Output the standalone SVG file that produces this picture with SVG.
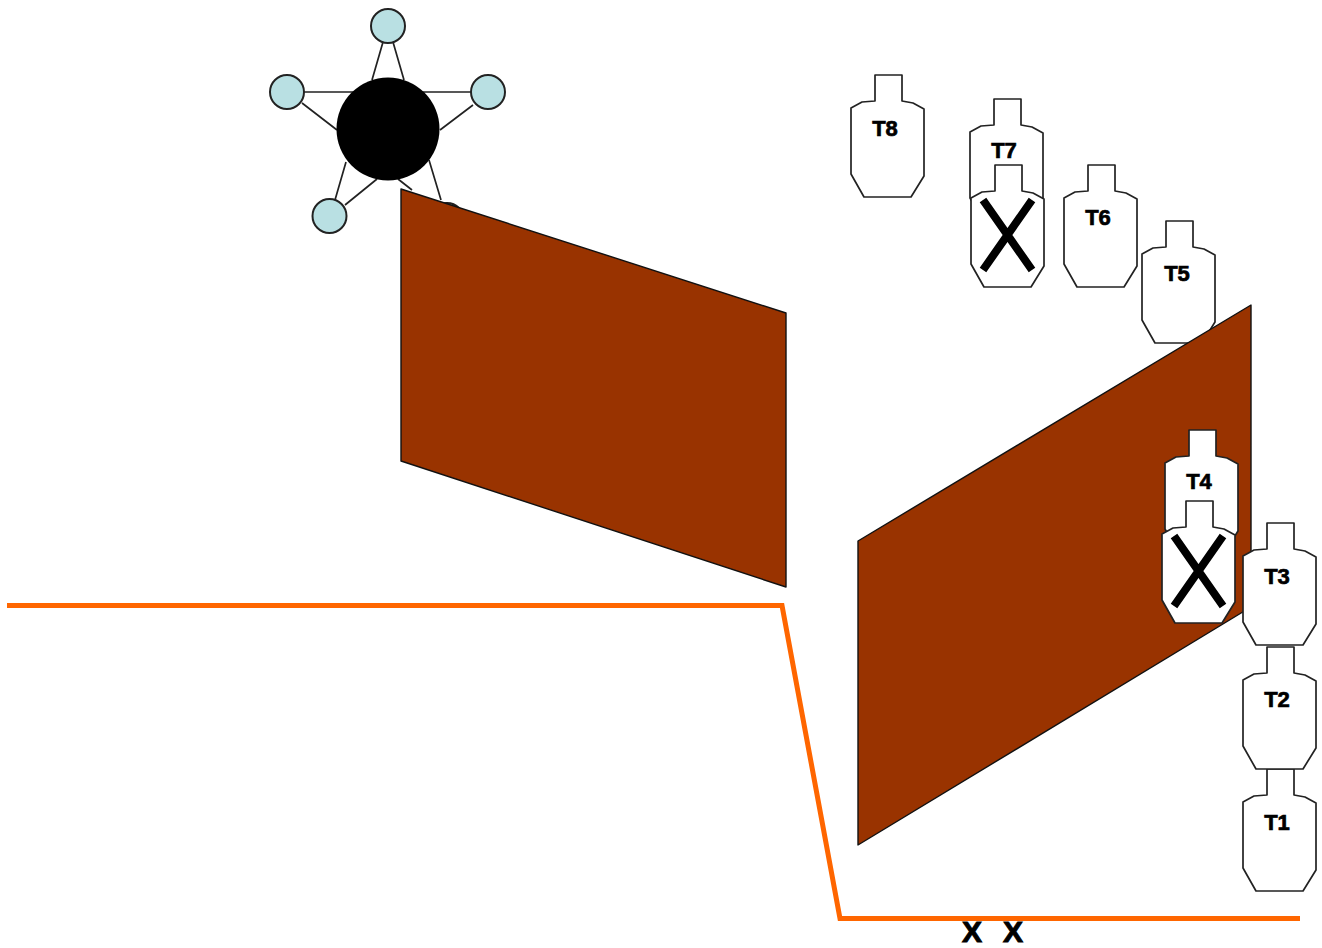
<svg xmlns="http://www.w3.org/2000/svg" xmlns:xlink="http://www.w3.org/1999/xlink" width="1322" height="948" viewBox="0 0 1322 948">
<style>
.bg{fill:#fff}
.t{fill:#fff;stroke:#222;stroke-width:1.7;stroke-linejoin:round}
.x{stroke:#000;stroke-width:8;fill:none}
.lbl{font-family:"Liberation Sans",Arial,sans-serif;font-weight:bold;font-size:22px;fill:#000;text-anchor:middle;stroke:#000;stroke-width:.7}
.wall{fill:#993300;stroke:#111;stroke-width:1.4;stroke-linejoin:round}
.sat{fill:#b9e0e3;stroke:#222;stroke-width:2}
.link{stroke:#222;stroke-width:1.7;fill:none}
.orange{fill:none;stroke:#ff6600;stroke-width:5;stroke-linejoin:miter}
.big{font-family:"Liberation Sans",Arial,sans-serif;font-weight:bold;font-size:30px;fill:#000;text-anchor:middle;stroke:#000;stroke-width:1}
</style>
<defs>
<path id="target" class="t" d="M0 0H27V26L38 28 49 34V101L36 122H-11L-24 99V33L-13 27 0 26Z"/>
<g id="hit">
<use xlink:href="#target" href="#target"/>
<path class="x" d="M-12 35L37 105M37 35L-12 105"/>
</g>
</defs>
<rect class="bg" width="1322" height="948"/>
<g id="connectors">
<path class="link" d="M383 42L372 80M393 42L404 80M304 92H360M416 92H471M302 103L337 130M473 105L440 130M346 162L335 200M345 205L377 179M429 160L441 200M398 179L412 190"/>
</g>
<g id="sat-top"><circle class="sat" cx="388" cy="26" r="17"/></g>
<g id="sat-left"><circle class="sat" cx="287" cy="92" r="17"/></g>
<g id="sat-right"><circle class="sat" cx="488" cy="92" r="17"/></g>
<g id="sat-bl"><circle class="sat" cx="329.500" cy="216" r="17"/></g>
<g id="sat-br"><circle class="sat" cx="447" cy="220" r="17"/></g>
<g id="hub"><circle cx="388" cy="129" r="51.500" fill="#000"/></g>
<g id="wall-1"><polygon class="wall" points="401,189 786,313 786,587 401,461"/></g>
<g id="T8"><use xlink:href="#target" href="#target" x="875" y="75"/><text class="lbl" x="885" y="136">T8</text></g>
<g id="T7"><use xlink:href="#target" href="#target" x="994" y="99"/><text class="lbl" x="1004" y="158">T7</text></g>
<g id="T7-hit"><use xlink:href="#hit" href="#hit" x="995" y="165"/></g>
<g id="T6"><use xlink:href="#target" href="#target" x="1088" y="165"/><text class="lbl" x="1098" y="225">T6</text></g>
<g id="T5"><use xlink:href="#target" href="#target" x="1166" y="221"/><text class="lbl" x="1177" y="281">T5</text></g>
<g id="wall-2"><polygon class="wall" points="858,541 1251,305 1251,607 858,845"/></g>
<g id="T4"><use xlink:href="#target" href="#target" x="1189" y="430"/><text class="lbl" x="1199" y="489">T4</text></g>
<g id="T4-hit"><use xlink:href="#hit" href="#hit" x="1186" y="501"/></g>
<g id="T1"><use xlink:href="#target" href="#target" x="1267" y="769"/><text class="lbl" x="1277" y="830">T1</text></g>
<g id="T2"><use xlink:href="#target" href="#target" x="1267" y="647"/><text class="lbl" x="1277" y="707">T2</text></g>
<g id="T3"><use xlink:href="#target" href="#target" x="1267" y="523"/><text class="lbl" x="1277" y="584">T3</text></g>
<g id="marks"><text class="big" x="972" y="941.500">X</text><text class="big" x="1013" y="941.500">X</text></g>
<g id="line"><path class="orange" d="M7 605.500H782L840 918.500H1300"/></g>
</svg>
